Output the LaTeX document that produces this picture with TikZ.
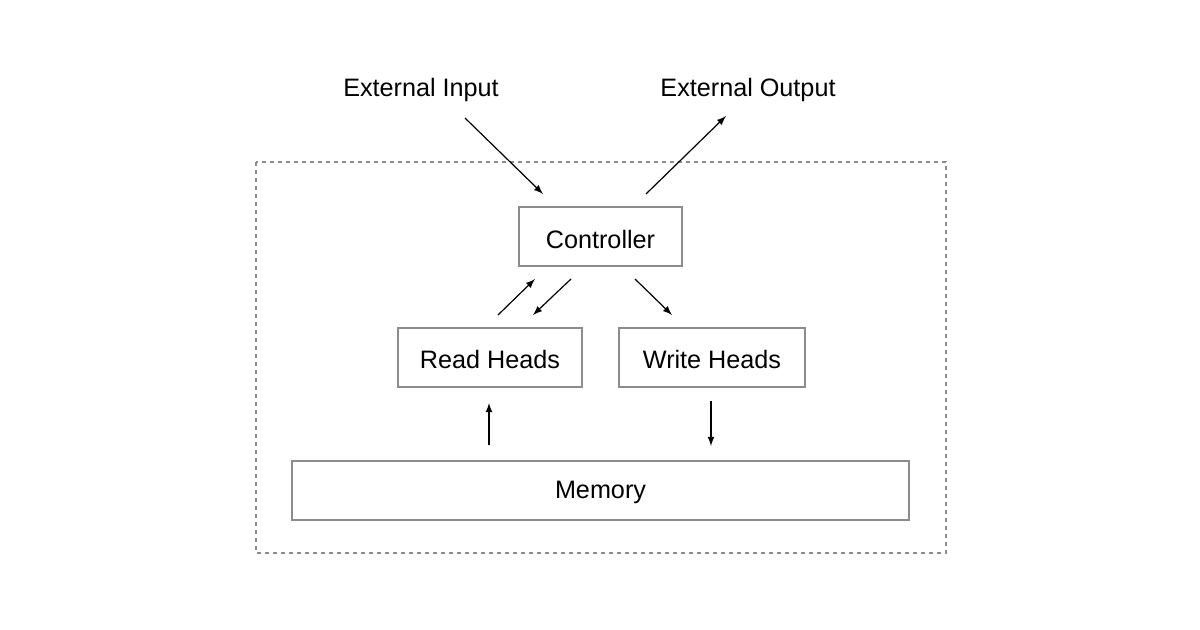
\documentclass[tikz,border=0pt]{standalone}
\usepackage{fontspec}
\setmainfont{Liberation Sans}
\begin{document}
\begin{tikzpicture}[x=0.5pt,y=-0.5pt,
  box/.style={draw=black!45,line width=0.8pt,fill=white},
  lbl/.style={font=\fontsize{12.6}{14}\selectfont},
  arr/.style={-{latex[scale=1.2]},line width=0.6pt}]
\useasboundingbox (0,0) rectangle (1200,630);
\draw[black!45,dashed,line width=0.6pt,dash pattern=on 2pt off 2pt] (256,162) rectangle (946,553);
\draw[box] (519,207) rectangle (682,266);
\node[lbl] (ctrl) at (600.5,239) {Controller};
\draw[box] (398,328) rectangle (582,387);
\node[lbl] (read) at (490,359) {Read Heads};
\draw[box] (619,328) rectangle (805,387);
\node[lbl] (write) at (712,359) {Write Heads};
\draw[box] (292,461) rectangle (909,520);
\node[lbl] (mem) at (600.5,492) {Memory};
\node[lbl] (ein) at (421,90) {External Input};
\node[lbl] (eout) at (748,90) {External Output};
\coordinate (a1) at (465,118); \coordinate (a2) at (543,194);
\coordinate (b1) at (646,194); \coordinate (b2) at (726,116);
\coordinate (c1) at (498,315); \coordinate (c2) at (535,279);
\coordinate (d1) at (571,279); \coordinate (d2) at (533,315);
\coordinate (e1) at (635,279); \coordinate (e2) at (672,315);
\coordinate (f1) at (489,445); \coordinate (f2) at (489,403);
\coordinate (g1) at (711,401); \coordinate (g2) at (711,446);
\foreach \s/\t in {a1/a2,b1/b2,c1/c2,d1/d2,e1/e2,f1/f2,g1/g2} \draw[arr] (\s) -- (\t);
\end{tikzpicture}
\end{document}
